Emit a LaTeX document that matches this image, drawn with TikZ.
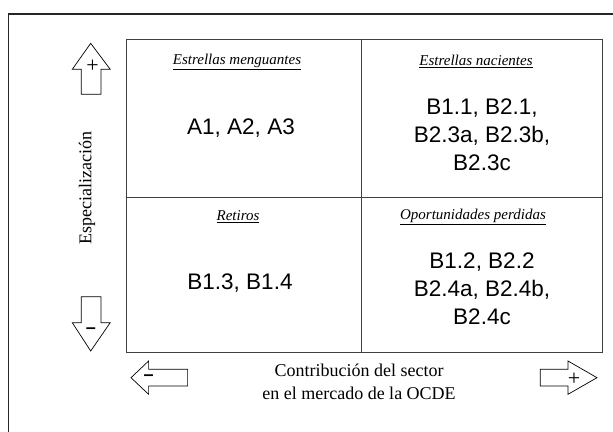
\documentclass[tikz,border=0pt]{standalone}
\usepackage{fontspec}
\setmainfont{Liberation Serif}
\newfontfamily\arialf{Liberation Sans}
\begin{document}
\begin{tikzpicture}[x=1pt,y=-1pt,
  grid/.style={draw=black!75,line width=0.9pt},
  frame/.style={draw=black!85,line width=1.3pt},
  arrowshape/.style={draw=black,line width=0.7pt,fill=white,line join=miter},
  head/.style={font=\fontsize{15}{18}\selectfont\itshape,inner sep=0pt},
  cell/.style={font=\arialf\fontsize{22.5}{28}\selectfont,align=center,inner sep=0pt},
  axis/.style={font=\fontsize{18}{23}\selectfont,align=center,inner sep=0pt},
  sign/.style={inner sep=0pt}]
\useasboundingbox (0,0) rectangle (613,431);
% outer frame
\draw[frame] (8.5,440) -- (8.5,14) -- (620,14);
% grid
\coordinate (g1) at (126,39);
\coordinate (g2) at (602,352);
\draw[grid] (g1) rectangle (g2);
\draw[grid] (361.6,39) -- (361.6,352);
\draw[grid] (126,197.5) -- (602,197.5);
% headers
\node[head] (h1) at (237,61.7) {\underline{Estrellas menguantes}};
\node[head] (h2) at (476,61.7) {\underline{Estrellas nacientes}};
\node[head] (h3) at (238,216.7) {\underline{Retiros}};
\node[head] (h4) at (473,216.7) {\underline{Oportunidades perdidas}};
% cell contents
\node[cell] (c1) at (241,128.3) {A1, A2, A3};
\node[cell] (c2) at (482,134.5) {B1.1, B2.1,\\B2.3a, B2.3b,\\B2.3c};
\node[cell] (c3) at (240,283.3) {B1.3, B1.4};
\node[cell] (c4) at (482,289) {B1.2, B2.2\\B2.4a, B2.4b,\\B2.4c};
% axis labels
\node[axis,rotate=90] (ylab) at (87,188.3) {Especialización};
\node[axis] (xlab) at (359,381.5) {Contribución del sector\\en el mercado de la OCDE};
% up arrow
\draw[arrowshape] (90.7,43.3) -- (110.2,69.3) -- (100.9,69.3) -- (100.9,94.3) -- (81.3,94.3) -- (81.3,69.3) -- (72.3,69.3) -- cycle;
\node[sign,font=\fontsize{22}{22}\selectfont] (up) at (92.6,66.7) {+};
% down arrow
\draw[arrowshape] (90.7,351) -- (110.2,322.7) -- (100.9,322.7) -- (100.9,296.7) -- (81.3,296.7) -- (81.3,322.7) -- (72.3,322.7) -- cycle;
\node[sign,font=\arialf\bfseries\fontsize{18}{18}\selectfont] (dn) at (91,330.7) {–};
% left arrow
\draw[arrowshape] (131,377.7) -- (148.6,361) -- (148.6,369.3) -- (187.6,369.3) -- (187.6,386) -- (148.6,386) -- (148.6,394.3) -- cycle;
\node[sign,font=\arialf\bfseries\fontsize{18}{18}\selectfont] (lf) at (148.6,377.7) {–};
% right arrow
\draw[arrowshape] (597,377.7) -- (568,361) -- (568,369.3) -- (540.3,369.3) -- (540.3,386) -- (568,386) -- (568,394.3) -- cycle;
\node[sign,font=\fontsize{22}{22}\selectfont] (rt) at (574,379) {+};
\end{tikzpicture}
\end{document}
